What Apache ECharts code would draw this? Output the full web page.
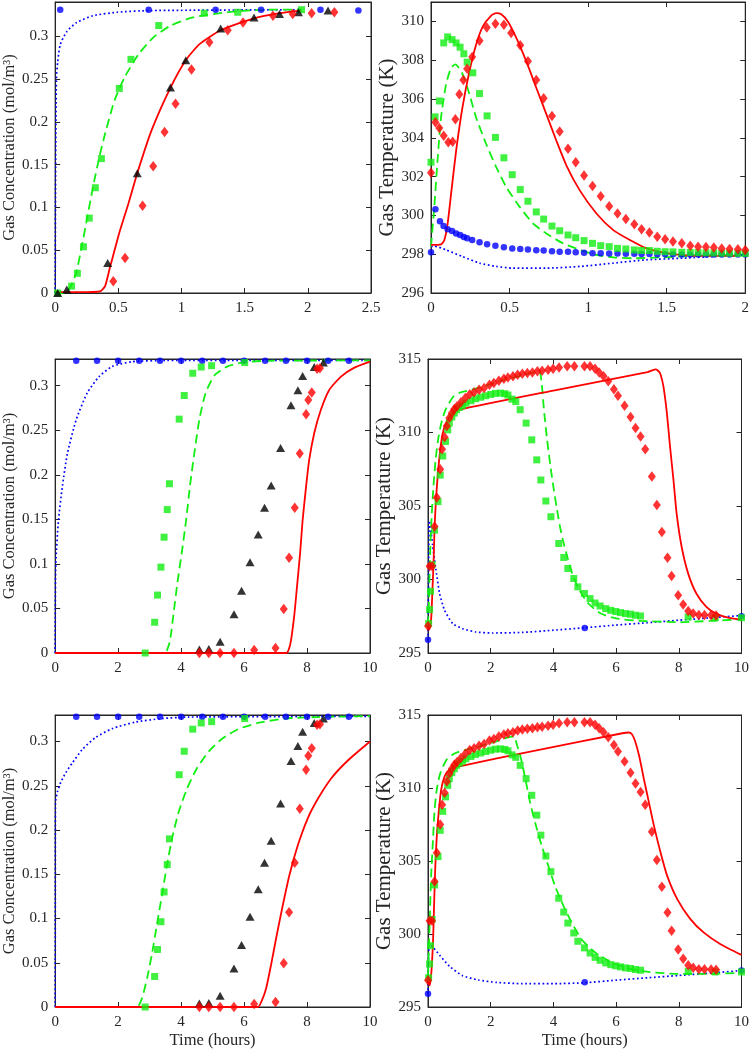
<!DOCTYPE html>
<html><head><meta charset="utf-8">
<script src="https://cdn.jsdelivr.net/npm/echarts@6/dist/echarts.min.js"></script>
<style>html,body{margin:0;padding:0;background:#fff}#c{width:752px;height:1050px}</style>
</head><body><div id="c"></div>
<script>
// ---------- Panel 1: concentration, short run ----------
const p1BlueLine = [[0,0],[0.004,0.15],[0.01,0.25],[0.02,0.27],[0.04,0.29],[0.09,0.305],[0.17,0.316],[0.3,0.324],[0.49,0.328],[0.75,0.33],[1.95,0.331]];
const p1BlueExp = [[0.04,0.331],[0.74,0.331],[1.27,0.331],[1.63,0.331],[2.1,0.331],[2.4,0.33]];
const p1GreenLine = [[0,0],[0.08,0],[0.1,0.002],[0.13,0.01],[0.166,0.023],[0.21,0.054],[0.255,0.089],[0.30,0.124],[0.35,0.159],[0.395,0.186],[0.47,0.225],[0.55,0.252],[0.66,0.279],[0.78,0.299],[0.91,0.312],[1.09,0.322],[1.36,0.328],[1.67,0.331],[1.95,0.331]];
const p1GreenExp = [[0.02,0],[0.13,0.008],[0.176,0.023],[0.224,0.054],[0.27,0.0875],[0.318,0.123],[0.366,0.157],[0.508,0.239],[0.6,0.273],[0.82,0.3125],[1.18,0.327],[1.445,0.328],[1.95,0.331]];
const p1RedLine = [[0,0.001],[0.2,0.001],[0.355,0.002],[0.395,0.008],[0.434,0.03],[0.474,0.052],[0.513,0.073],[0.579,0.104],[0.65,0.14],[0.763,0.19],[0.913,0.24],[1.034,0.272],[1.145,0.291],[1.31,0.307],[1.574,0.321],[1.776,0.327],[1.95,0.33]];
const p1RedExp = [[0.46,0.0136],[0.553,0.041],[0.692,0.102],[0.776,0.148],[0.866,0.188],[0.953,0.221],[1.079,0.261],[1.221,0.293],[1.366,0.307],[1.487,0.316],[1.724,0.324],[1.88,0.326],[2.03,0.327],[2.21,0.328]];
const p1BlackExp = [[0.02,0],[0.092,0.004],[0.416,0.035],[0.65,0.14],[0.913,0.24],[1.034,0.272],[1.31,0.309],[1.574,0.322],[1.776,0.326],[1.926,0.328],[2.16,0.33]];

// ---------- Panel 2: temperature, short run ----------
const p2BlueLine = [[0,298.39],[0.02,298.42],[0.096,298.22],[0.2,297.88],[0.31,297.54],[0.415,297.37],[0.52,297.28],[0.73,297.28],[0.95,297.37],[1.16,297.54],[1.37,297.71],[1.585,297.79],[1.8,297.88],[2.0,297.96]];
const p2BlueExp = [[0,298.1],[0.028,300.32],[0.057,299.7],[0.08,299.45],[0.106,299.28],[0.134,299.19],[0.16,299.07],[0.185,298.99],[0.209,298.89],[0.23,298.82],[0.262,298.73],[0.309,298.61],[0.357,298.51],[0.41,298.44],[0.464,298.36],[0.517,298.3],[0.568,298.27],[0.617,298.24],[0.67,298.2],[0.717,298.19],[0.77,298.15],[0.819,298.13],[0.872,298.12],[0.921,298.1],[0.974,298.07],[1.028,298.05],[1.08,298.05],[1.134,298.04],[1.187,298.03],[1.24,298.02],[1.294,298.02],[1.34,298.01],[1.39,298.01],[1.44,298.0],[1.49,298.0],[1.54,298.0],[1.596,297.99],[1.65,297.99],[1.70,297.99],[1.75,297.98],[1.80,297.98],[1.85,297.98],[1.90,297.98],[1.953,297.98],[2.0,297.98]];
const p2GreenLine = [[0,298.39],[0.021,300.44],[0.043,303.0],[0.064,305.05],[0.096,306.76],[0.128,307.61],[0.155,307.78],[0.202,307.27],[0.245,306.24],[0.287,305.05],[0.351,303.68],[0.415,302.49],[0.479,301.46],[0.564,300.44],[0.649,299.59],[0.734,299.07],[0.84,298.56],[0.947,298.22],[1.053,297.96],[1.16,297.84],[1.287,297.79],[1.479,297.84],[1.69,297.93],[1.95,297.96]];
const p2GreenExp = [[0,302.74],[0.026,305.08],[0.053,305.9],[0.081,308.89],[0.106,309.2],[0.134,309.06],[0.16,308.89],[0.185,308.67],[0.209,308.33],[0.23,307.9],[0.266,307.35],[0.309,306.28],[0.357,305.13],[0.41,304.02],[0.464,302.97],[0.517,302.1],[0.568,301.33],[0.617,300.73],[0.67,300.18],[0.717,299.81],[0.77,299.45],[0.819,299.21],[0.872,298.99],[0.921,298.85],[0.974,298.7],[1.028,298.56],[1.08,298.44],[1.134,298.39],[1.187,298.3],[1.24,298.27],[1.294,298.22],[1.34,298.19],[1.39,298.19],[1.44,298.15],[1.49,298.13],[1.54,298.12],[1.596,298.1],[1.65,298.09],[1.70,298.08],[1.75,298.07],[1.80,298.06],[1.85,298.05],[1.90,298.05],[1.953,298.04],[2.0,298.04]];
const p2RedLine = [[0,298.48],[0.064,298.51],[0.085,298.73],[0.106,299.59],[0.128,301.12],[0.16,303.34],[0.2,305.56],[0.245,307.44],[0.287,308.8],[0.33,309.74],[0.383,310.3],[0.415,310.43],[0.447,310.37],[0.489,310.0],[0.543,309.15],[0.606,307.95],[0.67,306.58],[0.734,305.22],[0.798,303.85],[0.862,302.57],[0.947,301.29],[1.053,300.1],[1.16,299.24],[1.266,298.73],[1.372,298.3],[1.479,298.08],[1.585,297.96],[1.713,297.91],[1.95,297.91]];
const p2RedExp = [[0,302.2],[0.028,304.8],[0.053,304.5],[0.081,304.1],[0.11,303.77],[0.138,303.8],[0.155,304.96],[0.18,306.24],[0.206,306.98],[0.23,307.56],[0.262,308.16],[0.309,309.0],[0.355,309.69],[0.41,309.88],[0.464,309.83],[0.51,309.4],[0.568,308.77],[0.617,307.95],[0.67,306.98],[0.717,306.04],[0.77,305.13],[0.819,304.33],[0.872,303.44],[0.921,302.74],[0.974,302.06],[1.028,301.51],[1.08,300.99],[1.134,300.47],[1.187,300.1],[1.24,299.82],[1.294,299.55],[1.34,299.28],[1.39,299.12],[1.44,298.9],[1.49,298.77],[1.54,298.65],[1.596,298.56],[1.65,298.44],[1.70,298.39],[1.75,298.37],[1.80,298.34],[1.85,298.3],[1.90,298.27],[1.953,298.25],[2.0,298.22]];

// ---------- Panels 3 & 5: concentration, long run (shared measurements) ----------
const concBlueExp = [[0.67,0.328],[1.33,0.328],[2.0,0.328],[2.67,0.328],[3.33,0.328],[4.0,0.328],[4.67,0.328],[5.33,0.328],[6.0,0.328],[6.67,0.328],[7.33,0.328],[8.0,0.328],[8.67,0.328],[9.33,0.328]];
const concGreenExp = [[2.86,0],[3.16,0.0345],[3.25,0.065],[3.36,0.0964],[3.46,0.13],[3.56,0.161],[3.63,0.19],[3.94,0.2625],[4.1,0.289],[4.37,0.314],[4.64,0.321],[4.97,0.3225],[6.02,0.326]];
const concBlackExp = [[4.58,0.004],[4.88,0.0045],[5.24,0.0127],[5.68,0.0435],[5.92,0.07],[6.19,0.102],[6.45,0.133],[6.65,0.163],[6.86,0.188],[7.16,0.23],[7.49,0.278],[7.71,0.295],[7.86,0.311],[8.23,0.321],[8.52,0.326]];
const concRedExp = [[4.58,0],[4.88,0],[5.24,0],[5.68,0],[6.32,0.0034],[7.0,0.0056],[7.26,0.0495],[7.43,0.107],[7.61,0.163],[7.77,0.224],[7.97,0.268],[8.04,0.284],[8.15,0.2925],[8.32,0.319],[8.41,0.3195]];

const p3BlueLine = [[0,0],[0.005,0.05],[0.02,0.1],[0.105,0.149],[0.23,0.187],[0.39,0.224],[0.67,0.262],[1.02,0.292],[1.39,0.31],[1.81,0.3216],[2.44,0.327],[3.5,0.3283],[10,0.3285]];
const p3GreenLine = [[0,0],[3.45,0],[3.55,0.003],[3.65,0.014],[3.76,0.044],[3.88,0.078],[4.02,0.112],[4.16,0.149],[4.28,0.187],[4.42,0.224],[4.58,0.262],[4.78,0.292],[5.07,0.312],[5.49,0.322],[6.02,0.3265],[6.76,0.328],[10,0.3285]];
const p3RedLine = [[0,0],[7.35,0],[7.42,0.004],[7.49,0.014],[7.6,0.044],[7.68,0.074],[7.78,0.112],[7.86,0.149],[7.97,0.187],[8.07,0.217],[8.23,0.247],[8.44,0.273],[8.7,0.295],[9.07,0.31],[9.49,0.32],[10,0.327]];

const p5BlueLine = [[0,0],[0.005,0.12],[0.01,0.231],[0.07,0.243],[0.18,0.254],[0.34,0.265],[0.55,0.276],[0.86,0.291],[1.28,0.3045],[1.81,0.3146],[2.55,0.322],[3.39,0.326],[4.23,0.3277],[10,0.3285]];
const p5GreenLine = [[0,0],[2.6,0],[2.76,0.01],[2.92,0.0326],[3.07,0.059],[3.23,0.0926],[3.39,0.126],[3.55,0.16],[3.71,0.19],[3.92,0.22],[4.18,0.246],[4.49,0.269],[4.86,0.288],[5.28,0.3026],[5.81,0.314],[6.44,0.321],[7.28,0.326],[8.34,0.3277],[10,0.3288]];
const p5RedLine = [[0,0],[6.44,0],[6.55,0.006],[6.7,0.021],[6.86,0.048],[7.02,0.078],[7.23,0.115],[7.44,0.149],[7.71,0.183],[8.02,0.213],[8.34,0.235],[8.76,0.258],[9.28,0.278],[10,0.3]];

// ---------- Panels 4 & 6: temperature, long run (shared measurements) ----------
const tempBlueExp = [[0,295.9],[5,296.7],[10,297.5]];
const tempGreenExp = [[0.02,297.0],[0.05,297.95],[0.08,299.2],[0.13,301.0],[0.21,303.36],[0.32,305.3],[0.39,307.1],[0.47,308.4],[0.56,309.39],[0.63,310.18],[0.68,310.64],[0.76,311.05],[0.84,311.32],[0.91,311.55],[1.0,311.7],[1.1,311.84],[1.21,312.0],[1.37,312.16],[1.52,312.3],[1.68,312.4],[1.84,312.5],[2.0,312.59],[2.15,312.66],[2.31,312.68],[2.45,312.64],[2.55,312.55],[2.68,312.27],[2.8,312.1],[2.94,311.55],[3.13,310.64],[3.31,309.5],[3.47,308.14],[3.6,306.77],[3.76,305.34],[3.92,304.27],[4.17,302.45],[4.33,301.5],[4.46,300.75],[4.65,300.07],[4.78,299.5],[4.99,299.05],[5.17,298.7],[5.33,298.4],[5.49,298.2],[5.67,298.02],[5.83,297.9],[5.99,297.82],[6.14,297.75],[6.3,297.68],[6.46,297.64],[6.62,297.57],[6.78,297.52],[8.3,297.45],[9.16,297.4],[10,297.4]];
const tempRedExp = [[0,296.84],[0.05,300.9],[0.13,300.9],[0.21,303.6],[0.28,305.57],[0.39,307.5],[0.45,308.86],[0.53,309.68],[0.6,310.45],[0.68,310.98],[0.76,311.32],[0.84,311.6],[0.92,311.77],[1.05,312.05],[1.19,312.34],[1.33,312.6],[1.47,312.73],[1.63,312.9],[1.79,313.02],[1.96,313.25],[2.1,313.36],[2.26,313.52],[2.42,313.66],[2.55,313.75],[2.71,313.82],[2.86,313.93],[3.01,314.0],[3.17,314.05],[3.33,314.09],[3.49,314.16],[3.64,314.2],[3.83,314.27],[3.99,314.34],[4.18,314.43],[4.44,314.5],[4.67,314.5],[4.99,314.5],[5.17,314.5],[5.33,314.34],[5.46,314.09],[5.6,313.82],[5.75,313.48],[5.93,312.95],[6.06,312.5],[6.27,311.82],[6.46,311.05],[6.62,310.3],[6.78,309.73],[6.93,308.86],[7.14,307.0],[7.3,305.07],[7.46,303.23],[7.64,301.48],[7.77,300.23],[7.98,298.93],[8.14,298.3],[8.3,297.86],[8.46,297.68],[8.64,297.59],[8.82,297.59],[9.03,297.57],[9.19,297.55]];

const p4BlueLine = [[0,295.9],[0.02,300.5],[0.04,304.0],[0.08,303.6],[0.15,302.3],[0.24,300.86],[0.37,299.05],[0.53,297.9],[0.79,297.0],[1.1,296.66],[1.52,296.43],[2.05,296.36],[3.0,296.4],[4.0,296.55],[5.0,296.72],[6.0,296.9],[7.0,297.06],[8.0,297.23],[9.0,297.39],[10.0,297.55]];
const p4GreenLine = [[0,296.9],[0.03,298.5],[0.05,300.4],[0.08,302.5],[0.1,303.6],[0.16,305.9],[0.24,308.1],[0.32,309.5],[0.42,310.6],[0.55,311.5],[0.79,312.4],[1.0,312.7],[1.31,312.86],[1.84,313.18],[2.36,313.55],[2.89,313.82],[3.3,314.05],[3.55,314.15],[3.62,313.5],[3.7,311.5],[3.8,309.5],[3.9,307.8],[4.0,306.3],[4.1,304.95],[4.2,303.7],[4.3,302.7],[4.45,301.5],[4.6,300.4],[4.8,299.4],[5.1,298.4],[5.5,297.7],[6.0,297.35],[6.8,297.18],[8.0,297.1],[9.0,297.18],[10,297.3]];
const p4RedLine = [[0,296.9],[0.04,296.6],[0.1,297.3],[0.137,299.05],[0.18,301.3],[0.21,303.6],[0.26,305.6],[0.315,307.2],[0.39,308.8],[0.47,309.95],[0.6,310.75],[0.79,311.3],[1.0,311.55],[4.0,312.85],[7.0,314.1],[7.25,314.3],[7.33,314.22],[7.41,314.0],[7.51,313.14],[7.62,311.32],[7.72,309.05],[7.83,306.77],[7.93,304.5],[8.09,302.23],[8.3,300.4],[8.56,299.05],[8.88,298.14],[9.19,297.68],[9.61,297.39],[10,297.27]];

const p6BlueLine = [[0,295.9],[0.02,298.6],[0.05,299.3],[0.16,299.1],[0.37,298.55],[0.68,297.8],[1.1,297.15],[1.6,296.85],[2.2,296.68],[3.0,296.6],[4.0,296.6],[5.0,296.66],[6.0,296.84],[7.0,297.0],[8.0,297.16],[9.0,297.32],[10,297.5]];
const p6GreenLine = [[0,297.16],[0.05,300.57],[0.1,304.0],[0.16,306.5],[0.21,308.5],[0.28,309.9],[0.39,311.0],[0.58,311.9],[0.79,312.3],[1.0,312.5],[1.63,312.84],[2.16,313.18],[2.58,313.48],[2.74,313.52],[2.84,312.95],[2.95,312.16],[3.11,310.57],[3.26,308.98],[3.42,307.61],[3.63,306.02],[3.84,304.66],[4.05,303.3],[4.32,301.93],[4.58,300.8],[4.89,299.66],[5.32,298.75],[5.84,298.07],[6.47,297.61],[7.1,297.39],[7.95,297.27],[9.0,297.27],[10,297.34]];
const p6RedLine = [[0,296.82],[0.05,296.48],[0.1,297.16],[0.16,299.43],[0.19,301.7],[0.23,304.43],[0.28,306.7],[0.35,308.52],[0.42,309.89],[0.53,310.8],[0.68,311.25],[0.89,311.43],[3.5,312.6],[6.2,313.75],[6.4,313.8],[6.5,313.7],[6.6,313.25],[6.74,312.16],[6.89,310.57],[7.05,308.98],[7.21,307.39],[7.42,305.57],[7.63,303.98],[7.95,302.39],[8.37,301.02],[8.79,300.11],[9.32,299.32],[10,298.57]];

// ---------- axis settings ----------
const concName = 'Gas Concentration (mol/m³)';
const tempName = 'Gas Temperature (K)';
const timeName = 'Time (hours)';

const FONT = '"Liberation Serif","Times New Roman",serif';
const AX = '#262626';
const BLUE = '#0000ff', GREEN = '#11ee11', RED = '#ff0000', BLACK = '#000000';

const panels = [
  {grid:{left:53, top:2, width:318, height:291}, x:[0,2.5,0.5], y:[0,0.34,0.05], hideMaxY:true, yname:concName, nameSize:16.5, nameGap:27, xname:false,
   lines:[p1BlueLine,p1GreenLine,p1RedLine], blue:p1BlueExp, green:p1GreenExp, black:p1BlackExp, red:p1RedExp},
  {grid:{left:431, top:2, width:315, height:291}, x:[0,2,0.5], y:[296,311,2], hideMaxY:true, yname:tempName, nameSize:21, nameGap:25, xname:false,
   lines:[p2BlueLine,p2GreenLine,p2RedLine], blue:p2BlueExp, green:p2GreenExp, black:null, red:p2RedExp},
  {grid:{left:53, top:359, width:317, height:294}, x:[0,10,2], y:[0,0.33,0.05], hideMaxY:true, yname:concName, nameSize:16.5, nameGap:27, xname:false,
   lines:[p3BlueLine,p3GreenLine,p3RedLine], blue:concBlueExp, green:concGreenExp, black:concBlackExp, red:concRedExp},
  {grid:{left:428, top:359, width:317, height:294}, x:[0,10,2], y:[295,315,5], hideMaxY:false, yname:tempName, nameSize:21, nameGap:24, xname:false,
   lines:[p4BlueLine,p4GreenLine,p4RedLine], blue:tempBlueExp, green:tempGreenExp, black:null, red:tempRedExp},
  {grid:{left:53, top:715, width:317, height:294}, x:[0,10,2], y:[0,0.33,0.05], hideMaxY:true, yname:concName, nameSize:16.5, nameGap:27, xname:true,
   lines:[p5BlueLine,p5GreenLine,p5RedLine], blue:concBlueExp, green:concGreenExp, black:concBlackExp, red:concRedExp},
  {grid:{left:428, top:715, width:317, height:294}, x:[0,10,2], y:[295,315,5], hideMaxY:false, yname:tempName, nameSize:21, nameGap:24, xname:true,
   lines:[p6BlueLine,p6GreenLine,p6RedLine], blue:tempBlueExp, green:tempGreenExp, black:null, red:tempRedExp}
];

const grids = [], xAxes = [], yAxes = [], series = [];
const tick = {inside:true, length:5, lineStyle:{color:AX, width:1}};
const line = {show:true, onZero:false, lineStyle:{color:AX, width:1}};
const lbl = {color:AX, fontFamily:FONT, fontSize:15};

panels.forEach((p, i) => {
  grids.push(Object.assign({show:true, borderColor:AX, borderWidth:1, backgroundColor:'#fff'}, p.grid));
  const xb = {type:'value', gridIndex:i, min:p.x[0], max:p.x[1], interval:p.x[2], splitLine:{show:false}, axisLine:line, axisTick:tick};
  xAxes.push(Object.assign({}, xb, {position:'bottom', axisLabel:Object.assign({margin:8}, lbl),
    name: p.xname ? timeName : '', nameLocation:'middle', nameGap:25,
    nameTextStyle:{color:AX, fontFamily:FONT, fontSize:16.5}}));
  xAxes.push(Object.assign({}, xb, {position:'top', axisLabel:{show:false}}));
  const yb = {type:'value', gridIndex:i, min:p.y[0], max:p.y[1], interval:p.y[2], splitLine:{show:false}, axisLine:line, axisTick:tick};
  yAxes.push(Object.assign({}, yb, {position:'left', axisLabel:Object.assign({margin:7, showMaxLabel:!p.hideMaxY}, lbl),
    name:p.yname, nameLocation:'middle', nameGap:p.nameGap,
    nameTextStyle:{color:AX, fontFamily:FONT, fontSize:p.nameSize}}));
  yAxes.push(Object.assign({}, yb, {position:'right', axisLabel:{show:false}}));
  const xi = 2*i, yi = 2*i;
  const lineStyles = [
    {color:BLUE, width:1.7, type:[1.7,2.6]},
    {color:GREEN, width:1.8, type:[9,5]},
    {color:RED, width:1.8, type:'solid'}
  ];
  p.lines.forEach((d, k) => {
    series.push({type:'line', xAxisIndex:xi, yAxisIndex:yi, data:d, showSymbol:false, smooth:0.2,
      lineStyle:lineStyles[k], itemStyle:{color:lineStyles[k].color}, z:2, silent:true, animation:false});
  });
  series.push({type:'scatter', xAxisIndex:xi, yAxisIndex:yi, data:p.blue, symbol:'circle', symbolSize:6.5, itemStyle:{color:BLUE}, z:3, clip:false, animation:false});
  series.push({type:'scatter', xAxisIndex:xi, yAxisIndex:yi, data:p.green, symbol:'rect', symbolSize:7, itemStyle:{color:GREEN}, z:4, clip:false, animation:false});
  if (p.black) series.push({type:'scatter', xAxisIndex:xi, yAxisIndex:yi, data:p.black, symbol:'triangle', symbolSize:[9,8], itemStyle:{color:BLACK}, z:5, clip:false, animation:false});
  series.push({type:'scatter', xAxisIndex:xi, yAxisIndex:yi, data:p.red, symbol:'diamond', symbolSize:[8,10.5], itemStyle:{color:RED}, z:6, clip:false, animation:false});
});

const chart = echarts.init(document.getElementById('c'), null, {renderer:'canvas', width:752, height:1050});
chart.setOption({animation:false, backgroundColor:'#fff', grid:grids, xAxis:xAxes, yAxis:yAxes, series:series});
</script>
</body></html>
